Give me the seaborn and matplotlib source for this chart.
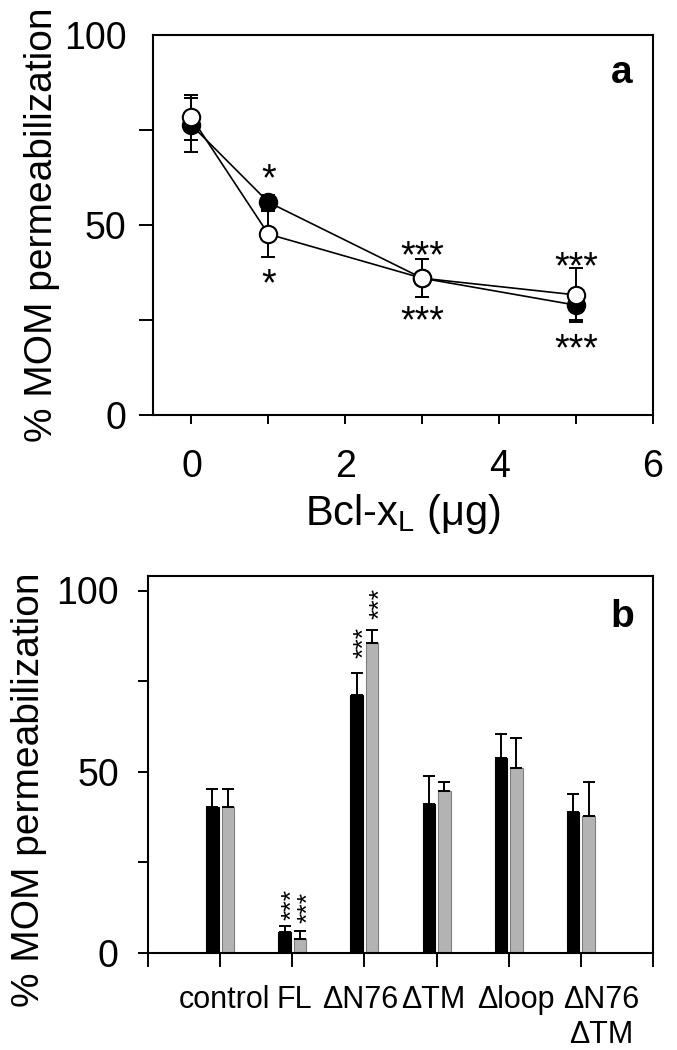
import numpy as np
import pandas as pd
import matplotlib
matplotlib.use("Agg")
import matplotlib.pyplot as plt
from matplotlib.transforms import ScaledTranslation
from matplotlib.container import BarContainer
import seaborn as sns

# ---------------- Panel a data ----------------
dose = [0, 1, 3, 5]
filled_mean = [76.3, 56.0, 36.0, 28.9]
filled_err = [7.0, 2.0, 5.0, 4.0]
open_mean = [78.3, 47.6, 36.0, 31.6]
open_err = [6.0, 6.0, 5.0, 7.0]
star_a_x = [1, 1, 3, 3, 5, 5]
star_a_y = [64.0, 36.4, 43.9, 26.8, 40.8, 19.3]
star_a_text = ["*", "*", "***", "***", "***", "***"]

# ---------------- Panel b data ----------------
categories = ["control", "FL", "ΔN76", "ΔTM", "Δloop", "ΔN76\nΔTM"]
series_names = ["black", "gray"]
black_vals = [40.2, 5.9, 71.1, 41.1, 53.9, 38.9]
black_err = [5.0, 1.6, 6.1, 7.8, 6.6, 4.9]
gray_vals = [40.2, 4.0, 85.4, 44.8, 50.9, 37.9]
gray_err = [5.0, 2.2, 3.8, 2.4, 8.4, 9.4]
star_b_cat = [1, 1, 2, 2]
star_b_series = [0, 1, 0, 1]
star_b_y = [13.5, 12.6, 85.8, 96.4]

sns.set_style("ticks")
plt.rcParams["font.family"] = ["Liberation Sans", "DejaVu Sans"]
plt.rcParams["mathtext.fontset"] = "custom"
plt.rcParams["mathtext.rm"] = "Liberation Sans"
for k in ["text.color", "axes.labelcolor", "xtick.color", "ytick.color",
          "xtick.labelcolor", "ytick.labelcolor", "axes.edgecolor"]:
    plt.rcParams[k] = "black"

fig = plt.figure(figsize=(6.77, 10.5), dpi=100)
axa = fig.add_axes([153 / 677, 1 - 415 / 1050, 500 / 677, 380 / 1050])
axb = fig.add_axes([148 / 677, 1 - 953 / 1050, 505 / 677, 377 / 1050])

# ---------- Panel a ----------
axa.errorbar(dose, filled_mean, yerr=filled_err, fmt="none", ecolor="black",
             elinewidth=1.4, capsize=5, capthick=1.4, zorder=1.5)
sns.lineplot(x=dose, y=filled_mean, ax=axa, color="black", lw=1.2, marker="o",
             markersize=12.5, markerfacecolor="black", markeredgecolor="black",
             markeredgewidth=1.5, zorder=3)
axa.errorbar(dose, open_mean, yerr=open_err, fmt="none", ecolor="black",
             elinewidth=1.4, capsize=5, capthick=1.4, zorder=1.5)
sns.lineplot(x=dose, y=open_mean, ax=axa, color="black", lw=1.2, marker="o",
             markersize=12.5, markerfacecolor="white", markeredgecolor="black",
             markeredgewidth=1.5, zorder=4)
star_fs_a = 27
off_a = ScaledTranslation(0, -0.5 * star_fs_a / 72, fig.dpi_scale_trans)
for xs, ys, t in zip(star_a_x, star_a_y, star_a_text):
    axa.text(xs, ys, t, ha="center", va="baseline", fontsize=star_fs_a,
             transform=axa.transData + off_a)

axa.set_xlim(-0.5, 6)
axa.set_ylim(0, 100)
axa.set_xticks(range(0, 7))
axa.set_xticklabels(["0", "", "2", "", "4", "", "6"])
axa.set_yticks([0, 25, 50, 75, 100])
axa.set_yticklabels(["0", "", "50", "", "100"])
axa.tick_params(axis="y", length=10, width=1.4, pad=9, labelsize=27)
axa.tick_params(axis="x", length=6.5, width=1.4, pad=18, labelsize=27)
axa.yaxis.get_major_ticks()[-1].tick1line.set_visible(False)
axa.set_xlabel("Bcl-x$_\\mathregular{L}$ (μg)", fontsize=30, labelpad=5)
axa.set_ylabel("% MOM permeabilization", fontsize=28)
axa.yaxis.set_label_coords(-0.186, 0.5)
axa.text(0.938, 0.9, "a", transform=axa.transAxes, ha="center", va="center",
         fontsize=28, fontweight="bold")

# ---------- Panel b ----------
df = pd.DataFrame({
    "category": categories * 2,
    "series": [series_names[0]] * len(categories) + [series_names[1]] * len(categories),
    "value": black_vals + gray_vals,
})
sns.barplot(data=df, x="category", y="value", hue="series", order=categories,
            hue_order=series_names, palette=["black", "#b3b3b3"], width=0.43,
            gap=0.19, errorbar=None, legend=False, ax=axb, saturation=1)
edge_cols = ["black", "#7f7f7f"]
errs = [black_err, gray_err]
bar_conts = [c for c in axb.containers if isinstance(c, BarContainer)]
centers_all = []
for ci, cont in enumerate(bar_conts):
    xs = []
    hs = []
    for p in cont.patches:
        p.set_edgecolor(edge_cols[ci])
        p.set_linewidth(0.8)
        xs.append(p.get_x() + p.get_width() / 2)
        hs.append(p.get_height())
    centers_all.append(xs)
    axb.errorbar(xs, hs, yerr=[np.zeros(len(hs)), errs[ci]], fmt="none",
                 ecolor="black", elinewidth=1.4, capsize=4.5, capthick=1.4,
                 zorder=3)
star_fs_b = 19
off_b = ScaledTranslation(0.575 * star_fs_b / 72, 0, fig.dpi_scale_trans)
for c, s, y in zip(star_b_cat, star_b_series, star_b_y):
    axb.text(centers_all[s][c], y, "***", rotation=90, rotation_mode="anchor",
             ha="center", va="baseline", fontsize=star_fs_b,
             transform=axb.transData + off_b)

axb.set_xlim(-1, 6)
axb.set_ylim(0, 104)
axb.set_xticks(range(-1, 7))
axb.set_xticklabels([""] + categories + [""])
axb.set_yticks([0, 25, 50, 75, 100])
axb.set_yticklabels(["0", "", "50", "", "100"])
axb.tick_params(axis="y", length=7, width=1.4, pad=14, labelsize=27)
axb.tick_params(axis="x", length=10, width=1.4, pad=13, labelsize=22)
axb.set_xlabel("")
axb.set_ylabel("% MOM permeabilization", fontsize=28)
axb.yaxis.set_label_coords(-0.2, 0.432)
axb.text(0.939, 0.891, "b", transform=axb.transAxes, ha="center", va="center",
         fontsize=28, fontweight="bold")
labs = axb.get_xticklabels()
for idx, dx in [(1, 4), (2, 2), (3, -4), (4, -3), (5, 7), (6, 20)]:
    lab = labs[idx]
    lab.set_transform(lab.get_transform() + ScaledTranslation(dx / 100, 0, fig.dpi_scale_trans))

for ax in (axa, axb):
    for sp in ax.spines.values():
        sp.set_visible(True)
        sp.set_color("black")
        sp.set_linewidth(1.5)

fig.savefig("out.png", dpi=100)
